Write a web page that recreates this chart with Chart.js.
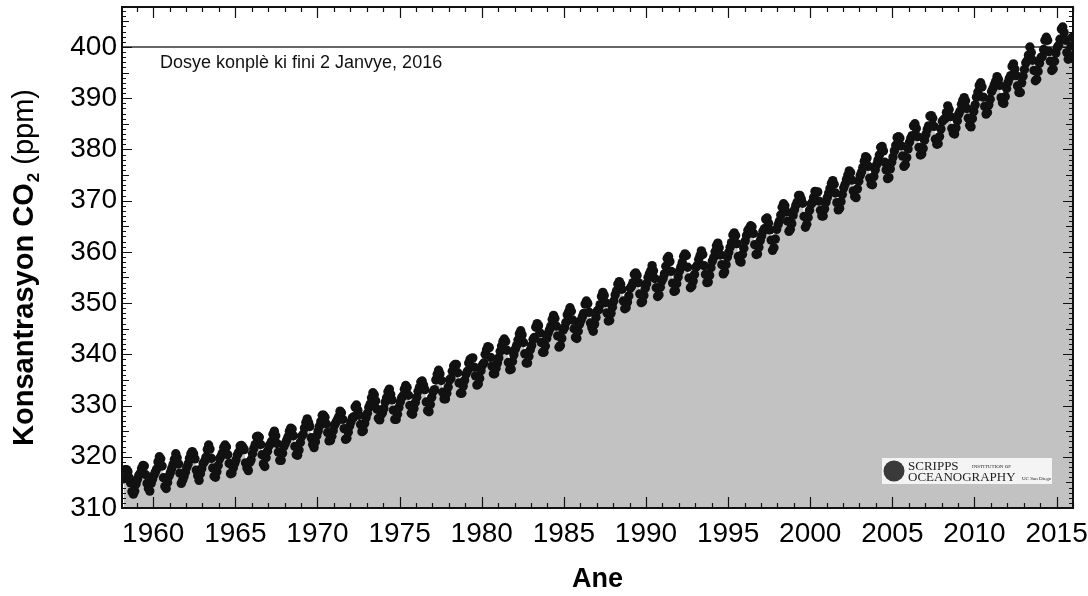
<!DOCTYPE html>
<html>
<head>
<meta charset="utf-8">
<script src="https://cdn.jsdelivr.net/npm/chart.js@4.4.1/dist/chart.umd.min.js"></script>
<style>
    html, body { margin: 0; padding: 0; background: #fff; }
    #wrap { width: 1088px; height: 596px; }
</style>
</head>
<body>
<div id="wrap"><canvas id="co2-chart" width="1088" height="596"></canvas></div>
<script>
// Mauna Loa monthly CO2 (ppm), first value = March 1958
const startYear = 1958;
const startMonth = 3;
const co2Monthly = [
    315.7, 317.5, 317.5, 317.1, 315.9, 314.9, 313.2, 312.7, 313.3, 314.7,               // 1958
    315.6, 316.4, 316.7, 317.7, 318.3, 318.2, 316.5, 314.8, 313.8, 313.3, 314.8, 315.6, // 1959
    316.4, 317.0, 317.6, 319.0, 320.0, 319.6, 318.2, 315.9, 314.2, 313.8, 315.0, 316.2, // 1960
    316.9, 317.7, 318.5, 319.5, 320.6, 319.8, 318.6, 316.8, 314.8, 315.4, 316.1, 317.0, // 1961
    317.9, 318.6, 319.7, 320.6, 321.0, 320.6, 319.6, 317.4, 316.3, 315.4, 316.7, 317.7, // 1962
    318.7, 319.1, 319.9, 321.4, 322.3, 321.5, 319.7, 317.8, 316.2, 316.0, 317.1, 318.3, // 1963
    319.6, 320.1, 320.7, 321.8, 322.3, 321.9, 320.4, 318.7, 316.7, 316.8, 317.8, 318.7, // 1964
    319.4, 320.4, 320.9, 322.1, 322.2, 321.9, 321.4, 318.8, 317.8, 317.3, 318.9, 319.4, // 1965
    320.6, 321.6, 322.4, 323.9, 324.0, 323.8, 322.4, 320.4, 318.6, 318.1, 319.8, 321.1, // 1966
    322.1, 322.5, 323.0, 324.4, 325.0, 324.1, 322.6, 320.9, 319.3, 319.3, 320.7, 322.0, // 1967
    322.6, 323.2, 323.9, 325.0, 325.6, 325.4, 324.1, 322.0, 320.4, 320.3, 321.3, 322.8, // 1968
    324.0, 324.4, 325.6, 326.7, 327.4, 326.7, 325.9, 323.7, 322.4, 321.8, 322.9, 324.1, // 1969
    325.0, 326.0, 326.9, 328.1, 328.1, 327.7, 326.4, 324.7, 323.1, 323.2, 324.0, 325.1, // 1970
    326.2, 326.7, 327.2, 327.8, 328.9, 328.6, 327.3, 325.5, 323.4, 323.6, 324.8, 326.0, // 1971
    326.8, 327.6, 327.8, 329.7, 330.1, 329.1, 328.1, 326.3, 324.9, 325.1, 326.5, 327.6, // 1972
    328.5, 329.6, 330.3, 331.5, 332.5, 332.1, 330.9, 329.3, 327.5, 327.2, 328.2, 328.6, // 1973
    329.4, 330.7, 331.5, 332.7, 333.2, 332.2, 331.1, 329.1, 327.3, 327.3, 328.3, 329.6, // 1974
    330.7, 331.5, 331.9, 333.2, 333.9, 333.5, 332.0, 330.0, 328.5, 328.3, 329.4, 330.6, // 1975
    331.6, 332.8, 333.5, 334.6, 334.8, 334.0, 333.1, 330.7, 329.0, 328.8, 330.2, 331.6, // 1976
    332.7, 333.1, 335.0, 336.1, 336.9, 336.2, 334.9, 332.6, 331.3, 331.3, 332.4, 333.6, // 1977
    335.0, 335.3, 336.7, 337.7, 338.0, 338.0, 336.4, 334.4, 332.4, 332.4, 333.8, 334.9, // 1978
    336.1, 336.7, 338.3, 339.0, 339.2, 339.3, 337.5, 335.8, 334.0, 334.2, 335.3, 336.8, // 1979
    337.9, 338.3, 340.0, 340.9, 341.5, 341.3, 339.4, 337.7, 336.2, 336.2, 337.3, 338.3, // 1980
    339.3, 340.6, 341.6, 342.5, 343.0, 342.5, 340.8, 338.4, 337.0, 337.1, 338.6, 339.9, // 1981
    341.0, 341.7, 342.8, 344.0, 344.6, 343.8, 342.3, 340.1, 338.3, 338.3, 339.6, 340.9, // 1982
    341.7, 342.9, 343.3, 345.3, 346.0, 345.6, 344.2, 342.3, 340.4, 340.4, 341.6, 343.1, // 1983
    344.1, 344.8, 345.5, 346.8, 347.6, 347.0, 345.5, 343.6, 341.4, 341.7, 343.1, 344.7, // 1984
    345.2, 346.2, 347.7, 348.3, 349.1, 348.4, 346.7, 345.0, 343.3, 343.1, 344.5, 345.9, // 1985
    346.6, 347.3, 348.0, 349.8, 350.4, 349.9, 348.2, 346.1, 345.2, 344.5, 345.9, 347.2, // 1986
    348.5, 348.7, 349.7, 351.3, 352.1, 351.5, 350.1, 348.1, 346.5, 346.6, 348.0, 349.2, // 1987
    350.4, 351.6, 352.4, 353.7, 354.2, 353.7, 352.7, 350.4, 348.9, 349.1, 350.2, 351.4, // 1988
    352.9, 353.3, 354.0, 355.6, 355.9, 355.4, 354.0, 351.8, 350.1, 350.3, 351.5, 352.9, // 1989
    353.8, 355.0, 355.7, 356.3, 357.3, 356.3, 354.8, 353.0, 351.3, 351.6, 353.1, 354.3, // 1990
    354.8, 355.7, 357.2, 358.7, 359.1, 358.1, 356.2, 353.9, 352.3, 352.4, 353.8, 355.1, // 1991
    356.3, 357.1, 357.9, 359.1, 359.6, 359.3, 357.0, 354.9, 353.0, 353.3, 354.3, 355.6, // 1992
    357.0, 357.3, 358.5, 359.3, 360.2, 359.5, 357.3, 355.6, 354.0, 354.1, 355.4, 356.9, // 1993
    358.2, 358.9, 360.0, 361.2, 361.7, 360.8, 359.4, 357.5, 355.7, 356.1, 357.5, 359.0, // 1994
    359.9, 360.9, 361.8, 363.3, 363.7, 363.2, 361.6, 359.1, 358.2, 358.0, 359.5, 360.7, // 1995
    362.1, 363.2, 364.2, 364.6, 365.1, 364.9, 363.6, 361.4, 359.5, 359.6, 360.9, 362.2, // 1996
    363.1, 364.0, 364.5, 366.4, 366.6, 365.6, 364.3, 362.3, 360.3, 360.8, 362.5, 364.4, // 1997
    365.3, 366.0, 367.2, 368.7, 369.4, 369.0, 367.8, 366.0, 364.0, 364.4, 365.5, 367.1, // 1998
    368.2, 369.1, 369.7, 371.0, 371.0, 370.3, 369.5, 366.9, 364.8, 365.4, 366.7, 368.1, // 1999
    369.3, 369.6, 370.6, 371.8, 371.6, 371.7, 369.9, 368.1, 367.0, 367.0, 368.4, 369.7, // 2000
    370.6, 371.5, 372.4, 373.4, 373.9, 373.2, 371.5, 369.6, 368.2, 368.5, 369.8, 371.2, // 2001
    372.5, 373.2, 374.1, 375.0, 375.8, 375.5, 374.0, 371.9, 370.8, 370.6, 372.3, 373.8, // 2002
    374.9, 375.6, 376.5, 377.7, 378.6, 378.3, 376.7, 374.4, 373.2, 373.1, 374.7, 376.0, // 2003
    377.0, 377.9, 378.9, 380.4, 380.6, 379.7, 377.5, 376.0, 374.3, 374.5, 376.2, 377.5, // 2004
    378.5, 379.7, 380.8, 382.3, 382.5, 382.2, 380.7, 378.7, 376.7, 377.0, 378.4, 380.1, // 2005
    381.4, 382.2, 382.7, 384.6, 385.0, 384.1, 382.5, 380.4, 378.9, 379.1, 380.2, 381.8, // 2006
    382.9, 383.9, 384.6, 386.5, 386.6, 386.1, 384.5, 382.0, 381.0, 381.1, 382.5, 384.0, // 2007
    385.5, 385.8, 386.0, 387.2, 388.5, 387.8, 386.4, 384.1, 383.2, 383.0, 384.2, 385.6, // 2008
    386.9, 387.5, 388.8, 389.6, 390.1, 389.5, 388.0, 386.1, 384.7, 384.4, 386.0, 387.4, // 2009
    388.7, 390.2, 391.2, 392.5, 393.0, 392.2, 390.2, 388.4, 386.9, 387.2, 388.7, 389.8, // 2010
    391.3, 391.9, 392.6, 393.3, 394.2, 393.7, 392.5, 390.1, 389.1, 389.0, 390.3, 391.9, // 2011
    393.1, 393.9, 394.4, 396.2, 396.7, 395.7, 394.4, 392.4, 391.1, 391.1, 393.0, 394.3, // 2012
    395.6, 396.9, 397.3, 398.4, 400.0, 398.9, 397.4, 395.4, 393.4, 393.7, 395.2, 396.8, // 2013
    397.9, 398.1, 399.5, 401.3, 401.9, 401.3, 399.1, 397.2, 395.4, 395.7, 397.2, 398.8, // 2014
    399.9, 400.3, 401.5, 403.5, 403.9, 402.8, 401.3, 398.9, 397.6, 398.3, 400.2, 401.9  // 2015
];

const xTickYears = [1960, 1965, 1970, 1975, 1980, 1985, 1990, 1995, 2000, 2005, 2010, 2015];
const yTickValues = [310, 320, 330, 340, 350, 360, 370, 380, 390, 400];
const xRange = [1958.1, 2016.0];
const yRange = [310, 407.8];
const refLevel = 400;

const noteText = 'Dosye konplè ki fini 2 Janvye, 2016';
const xTitle = 'Ane';
const yTitleBold = 'Konsantrasyon CO';
const yTitleSub = '2';
const yTitleRest = ' (ppm)';

const FONT = '"Liberation Sans", Arial, Helvetica, sans-serif';

const co2Points = co2Monthly.map((v, i) => ({
    x: startYear + (startMonth - 1 + i + 0.5) / 12,
    y: v
}));

// frame, inward ticks, note, logo and y title
const decorPlugin = {
    id: 'decor',
    afterDatasetsDraw(chart) {
        const { ctx, chartArea: a, scales: { x, y } } = chart;
        ctx.save();
        ctx.strokeStyle = '#111';
        ctx.lineWidth = 1.2;
        ctx.beginPath();
        for (let yr = Math.ceil(x.min); yr <= x.max; yr++) {
            const px = Math.round(x.getPixelForValue(yr)) + 0.5;
            const len = yr % 5 === 0 ? 11 : 5;
            ctx.moveTo(px, a.bottom); ctx.lineTo(px, a.bottom - len);
            ctx.moveTo(px, a.top); ctx.lineTo(px, a.top + len);
        }
        for (let v = Math.ceil(y.min); v <= y.max; v++) {
            const py = Math.round(y.getPixelForValue(v)) + 0.5;
            const len = v % 10 === 0 ? 10 : (v % 5 === 0 ? 7 : 4);
            ctx.moveTo(a.left, py); ctx.lineTo(a.left + len, py);
            ctx.moveTo(a.right, py); ctx.lineTo(a.right - len, py);
        }
        ctx.stroke();

        ctx.lineWidth = 2;
        ctx.strokeRect(a.left, a.top, a.width, a.height);

        // note under the 400 line
        ctx.fillStyle = '#111';
        ctx.font = '18px ' + FONT;
        ctx.textAlign = 'left';
        ctx.textBaseline = 'alphabetic';
        ctx.fillText(noteText, a.left + 38, a.top + 61);

        // Scripps logo
        const lx = a.right - 191, ly = a.bottom - 50;
        ctx.fillStyle = '#f4f4f4';
        ctx.fillRect(lx, ly, 170, 26);
        ctx.fillStyle = '#3a3a3a';
        ctx.beginPath();
        ctx.arc(lx + 12, ly + 13, 10.5, 0, Math.PI * 2);
        ctx.fill();
        ctx.fillStyle = '#222';
        ctx.font = '13px "Liberation Serif", "Times New Roman", serif';
        ctx.fillText('SCRIPPS', lx + 26, ly + 12);
        ctx.fillText('OCEANOGRAPHY', lx + 26, ly + 23);
        ctx.font = '5px "Liberation Serif", serif';
        ctx.fillText('INSTITUTION OF', lx + 90, ly + 10);
        ctx.fillText('UC San Diego', lx + 140, ly + 22);

        // y axis title, bold part + subscript + regular part
        const bigBold = 'bold 29px ' + FONT;
        const subBold = 'bold 17px ' + FONT;
        const reg = '29px ' + FONT;
        ctx.font = bigBold; const w1 = ctx.measureText(yTitleBold).width;
        ctx.font = subBold; const w2 = ctx.measureText(yTitleSub).width;
        ctx.font = reg; const w3 = ctx.measureText(yTitleRest).width;
        const total = w1 + w2 + w3;
        ctx.translate(33, 268);
        ctx.rotate(-Math.PI / 2);
        let cx = -total / 2;
        ctx.fillStyle = '#000';
        ctx.font = bigBold; ctx.fillText(yTitleBold, cx, 0); cx += w1;
        ctx.font = subBold; ctx.fillText(yTitleSub, cx + 1, 6); cx += w2 + 1;
        ctx.font = reg; ctx.fillText(yTitleRest, cx, 0);
        ctx.restore();
    }
};

new Chart(document.getElementById('co2-chart'), {
    type: 'scatter',
    data: {
        datasets: [{
            type: 'line',
            label: 'fill',
            data: co2Points,
            borderWidth: 0,
            pointRadius: 0,
            backgroundColor: '#c2c2c2',
            fill: 'start',
            tension: 0,
            order: 3
        }, {
            type: 'line',
            label: '400 ppm',
            data: [{ x: xRange[0], y: refLevel }, { x: xRange[1], y: refLevel }],
            borderColor: '#333',
            borderWidth: 1.5,
            pointRadius: 0,
            fill: false,
            order: 2
        }, {
            label: 'CO2',
            data: co2Points,
            pointRadius: 4.7,
            pointStyle: 'circle',
            backgroundColor: '#111',
            borderWidth: 0,
            order: 1
        }]
    },
    options: {
        responsive: false,
        animation: false,
        layout: { padding: { top: 7, right: 15, left: 0, bottom: 0 } },
        plugins: {
            legend: { display: false },
            tooltip: { enabled: false }
        },
        scales: {
            x: {
                type: 'linear',
                min: xRange[0],
                max: xRange[1],
                grid: { display: false, drawTicks: false },
                border: { display: false },
                afterBuildTicks: s => { s.ticks = xTickYears.map(v => ({ value: v })); },
                afterFit: s => { s.height = 88; s.paddingLeft = 0; s.paddingRight = 0; },
                ticks: {
                    color: '#000',
                    padding: 9,
                    maxRotation: 0,
                    autoSkip: false,
                    font: { family: FONT, size: 28 },
                    callback: v => String(v)
                },
                title: {
                    display: true,
                    text: xTitle,
                    color: '#000',
                    padding: 0,
                    font: { family: FONT, size: 27, weight: 'bold' }
                }
            },
            y: {
                min: yRange[0],
                max: yRange[1],
                grid: { display: false, drawTicks: false },
                border: { display: false },
                afterBuildTicks: s => { s.ticks = yTickValues.map(v => ({ value: v })); },
                afterFit: s => { s.width = 122; s.paddingTop = 0; s.paddingBottom = 0; },
                ticks: {
                    color: '#000',
                    padding: 5,
                    autoSkip: false,
                    font: { family: FONT, size: 28 },
                    callback: v => String(v)
                }
            }
        }
    },
    plugins: [decorPlugin]
});
</script>
</body>
</html>
